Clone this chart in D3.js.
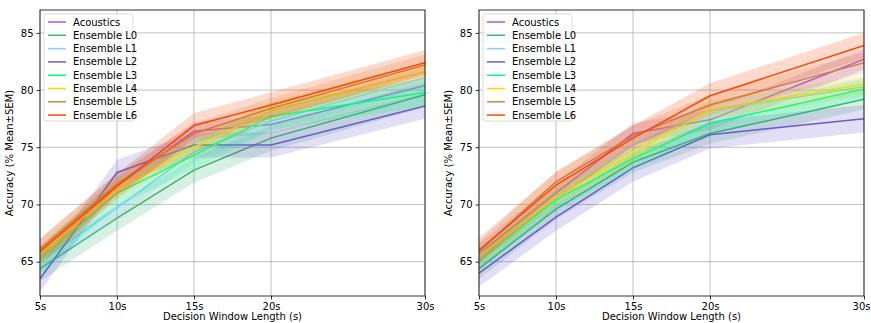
<!DOCTYPE html>
<html>
<head>
<meta charset="utf-8">
<script src="https://cdn.jsdelivr.net/npm/d3@7"></script>
<style>
  body { margin: 0; background: #fff; }
  svg { font-family: "DejaVu Sans", sans-serif; }
</style>
</head>
<body>
<svg id="chart" width="871" height="323"></svg>
<script>
var windows = [5, 10, 15, 20, 30];
var tickLabels = ["5s", "10s", "15s", "20s", "30s"];
var yTicks = [65, 70, 75, 80, 85];
var names = ["Acoustics", "Ensemble L0", "Ensemble L1", "Ensemble L2", "Ensemble L3", "Ensemble L4", "Ensemble L5", "Ensemble L6"];
var colors = ["#ba55d3", "#3cb371", "#87cefa", "#6a5acd", "#00ff7f", "#ffd700", "#cd853f", "#ff4500"];

// left panel means
var leftAcoustics = [65.5, 71.6, 76.4, 77.0, 80.4];
var leftL0 = [64.4, 68.8, 73.0, 75.8, 79.6];
var leftL1 = [65.0, 69.7, 74.6, 77.3, 81.1];
var leftL2 = [63.5, 72.8, 75.2, 75.2, 78.6];
var leftL3 = [65.2, 71.0, 74.3, 77.7, 79.8];
var leftL4 = [65.6, 71.4, 75.0, 78.2, 81.6];
var leftL5 = [66.1, 71.8, 76.2, 78.4, 82.2];
var leftL6 = [65.9, 71.6, 76.9, 78.7, 82.4];
var leftSem = [0.8, 1.1, 0.9, 1.1, 1.2, 0.8, 0.9, 1.1];

// right panel means
var rightAcoustics = [65.7, 71.0, 76.2, 77.4, 82.7];
var rightL0 = [64.4, 69.6, 73.7, 76.2, 79.2];
var rightL1 = [65.3, 70.5, 75.2, 78.2, 80.3];
var rightL2 = [64.0, 68.9, 73.2, 76.1, 77.5];
var rightL3 = [65.1, 70.4, 74.0, 77.1, 80.1];
var rightL4 = [65.4, 70.7, 74.5, 78.3, 80.5];
var rightL5 = [65.9, 72.0, 76.0, 78.7, 82.4];
var rightL6 = [66.0, 71.7, 75.8, 79.5, 83.9];
var rightSem = [0.9, 0.9, 0.8, 1.2, 0.9, 0.8, 0.9, 1.1];

var leftSeries = [leftAcoustics, leftL0, leftL1, leftL2, leftL3, leftL4, leftL5, leftL6];
var rightSeries = [rightAcoustics, rightL0, rightL1, rightL2, rightL3, rightL4, rightL5, rightL6];

var svg = d3.select("#chart");
var plotTop = 10, plotBottom = 296;

function panel(left, right, series, sem) {
  var x = d3.scaleLinear().domain([5, 30]).range([left, right]);
  var y = d3.scaleLinear().domain([62, 87]).range([plotBottom, plotTop]);
  var g = svg.append("g");

  // grid
  g.append("g").selectAll("line").data(windows).enter().append("line")
    .attr("x1", d => x(d)).attr("x2", d => x(d))
    .attr("y1", plotTop).attr("y2", plotBottom)
    .attr("stroke", "#b0b0b0").attr("stroke-width", 0.8);
  g.append("g").selectAll("line").data(yTicks).enter().append("line")
    .attr("x1", left).attr("x2", right)
    .attr("y1", d => y(d)).attr("y2", d => y(d))
    .attr("stroke", "#b0b0b0").attr("stroke-width", 0.8);

  var area = d3.area()
    .x((d, i) => x(windows[i]))
    .y0(d => y(d[0]))
    .y1(d => y(d[1]));
  var line = d3.line()
    .x((d, i) => x(windows[i]))
    .y(d => y(d));

  var clip = "clip" + left;
  svg.append("clipPath").attr("id", clip).append("rect")
    .attr("x", left).attr("y", plotTop).attr("width", right - left).attr("height", plotBottom - plotTop);
  var plot = g.append("g").attr("clip-path", "url(#" + clip + ")");

  for (let i = 0; i < series.length; i++) {
    let band = series[i].map(v => [v - sem[i], v + sem[i]]);
    plot.append("path").attr("d", area(band))
      .attr("fill", colors[i]).attr("fill-opacity", 0.2);
    plot.append("path").attr("d", line(series[i]))
      .attr("fill", "none").attr("stroke", colors[i]).attr("stroke-width", 1.5);
  }

  // axes
  var xAxis = d3.axisBottom(x).tickValues(windows).tickFormat((d, i) => tickLabels[i]).tickSize(3.5).tickPadding(3);
  var yAxis = d3.axisLeft(y).tickValues(yTicks).tickSize(3.5).tickPadding(3);
  var gx = g.append("g").attr("transform", "translate(0," + plotBottom + ")").call(xAxis);
  var gy = g.append("g").attr("transform", "translate(" + left + ",0)").call(yAxis);
  [gx, gy].forEach(a => {
    a.select(".domain").remove();
    a.selectAll("text").attr("font-size", 10).attr("fill", "#000").attr("font-family", "DejaVu Sans");
    a.selectAll("line").attr("stroke", "#000").attr("stroke-width", 0.8);
  });
  // keep the last label inside the page
  if (right > 850) gx.selectAll("text").filter((d, i) => i == windows.length - 1).attr("dx", "-3");

  g.append("rect").attr("x", left).attr("y", plotTop)
    .attr("width", right - left).attr("height", plotBottom - plotTop)
    .attr("fill", "none").attr("stroke", "#000").attr("stroke-width", 0.8);

  g.append("text").attr("x", (left + right) / 2).attr("y", 320)
    .attr("text-anchor", "middle").attr("font-size", 10)
    .text("Decision Window Length (s)");
  g.append("text")
    .attr("transform", "translate(" + (left - 27) + "," + ((plotTop + plotBottom) / 2) + ") rotate(-90)")
    .attr("text-anchor", "middle").attr("font-size", 10)
    .text("Accuracy (% Mean±SEM)");

  // legend
  var lg = g.append("g").attr("transform", "translate(" + (left + 4) + "," + (plotTop + 4) + ")");
  lg.append("rect").attr("width", 89).attr("height", 107).attr("rx", 2)
    .attr("fill", "#fff").attr("fill-opacity", 0.8).attr("stroke", "#d0d0d0").attr("stroke-width", 0.8);
  names.forEach((n, i) => {
    let yy = 8 + i * 13.3;
    lg.append("line").attr("x1", 4).attr("x2", 22).attr("y1", yy).attr("y2", yy)
      .attr("stroke", colors[i]).attr("stroke-width", 1.5);
    lg.append("text").attr("x", 29).attr("y", yy + 3.5).attr("font-size", 10).text(n);
  });
}

panel(40, 425, leftSeries, leftSem);
panel(479, 864, rightSeries, rightSem);
</script>
</body>
</html>
